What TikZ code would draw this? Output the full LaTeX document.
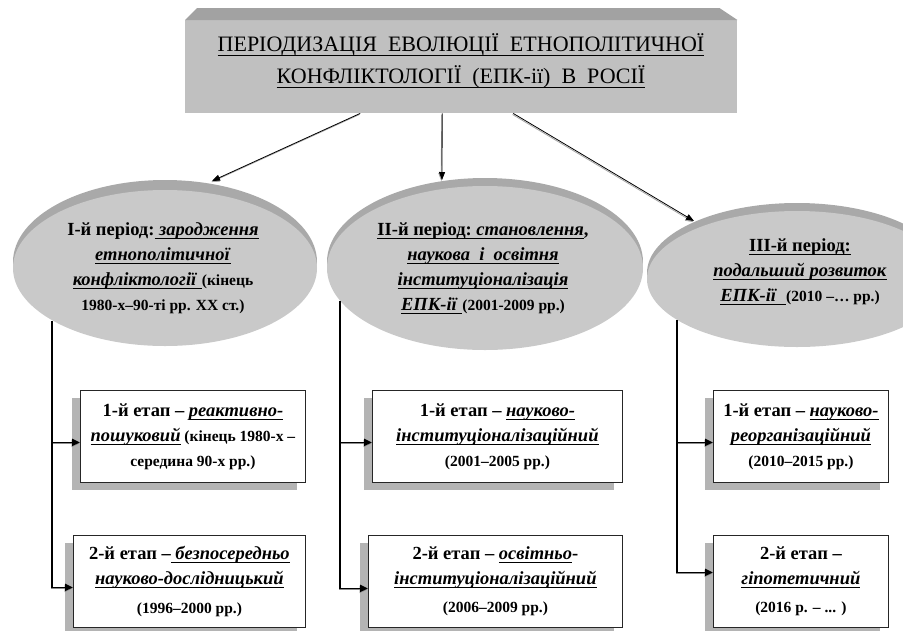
\documentclass[tikz,border=0pt]{standalone}
\usepackage{fontspec}
\setmainfont{Liberation Serif}
\usetikzlibrary{shapes.geometric,arrows.meta}
\definecolor{boxgray}{HTML}{C0C0C0}
\definecolor{topgray}{HTML}{A2A2A2}
\definecolor{ellgray}{HTML}{C9C9C9}
\definecolor{rimgray}{HTML}{A9A9A9}
\definecolor{shadowgray}{HTML}{B4B4B4}
\newsavebox\ulbox
\newcommand\ulx[1]{\sbox\ulbox{#1}\rlap{\usebox\ulbox}\rule[-0.2em]{\wd\ulbox}{0.065em}}
\newcommand\sm{\fontsize{15.5}{25}\selectfont}
\tikzset{
  rim/.style={ellipse, fill=rimgray, draw=none, inner sep=0pt},
  ell/.style={ellipse, fill=ellgray, draw=none, inner sep=0pt},
  etext/.style={align=center, inner sep=0pt, font=\fontsize{18.5}{25}\selectfont\bfseries},
  stagebox/.style={rectangle, draw=black!85, line width=0.8pt, fill=white, inner sep=0pt,
    anchor=north west, align=center, font=\fontsize{18.5}{25}\selectfont\bfseries},
  shadowbox/.style={rectangle, fill=shadowgray, draw=none, inner sep=0pt, anchor=north west},
  conn/.style={line width=1.8pt, -{Triangle[length=8pt,width=7pt]},
    preaction={draw=black!45, line width=1.8pt, transform canvas={shift={(-0.5pt,-1pt)}}}},
  topconn/.style={line width=0.8pt, -{Triangle[length=8pt,width=6pt]},
    preaction={draw=black!35, line width=0.8pt, transform canvas={shift={(-0.7pt,-1.1pt)}}}},
}
\begin{document}
\begin{tikzpicture}[x=1pt,y=-1pt]
\useasboundingbox (0,0) rectangle (903,630);
\clip (0,0) rectangle (903,630);

% title box
\node[rectangle, fill=boxgray, inner sep=0pt, anchor=north west,
      minimum width=552pt, minimum height=93pt] (title) at (185,20) {};
\fill[topgray] (title.north west) -- ([xshift=12pt,yshift=12pt]title.north west)
  -- ([xshift=-18pt,yshift=12pt]title.north east) -- (title.north east) -- cycle;
\node[align=center, inner sep=0pt, font=\fontsize{22}{32}\selectfont] (titletext) at (461,61)
  {\ulx{ПЕРІОДИЗАЦІЯ\ \ ЕВОЛЮЦІЇ\ \ ЕТНОПОЛІТИЧНОЇ}\\
   \ulx{КОНФЛІКТОЛОГІЇ\ \ (ЕПК-ії)\ \ В\ \ РОСІЇ}};

% ellipses
\node[rim, minimum width=304pt, minimum height=164pt] (e1rim) at (165,262) {};
\node[ell, minimum width=304pt, minimum height=156pt] (e1) at (165,268) {};
\node[rim, minimum width=316pt, minimum height=168pt] (e2rim) at (485,262) {};
\node[ell, minimum width=316pt, minimum height=164pt] (e2) at (485,268) {};
\node[rim, minimum width=300pt, minimum height=140pt] (e3rim) at (797,273) {};
\node[ell, minimum width=300pt, minimum height=136pt] (e3) at (797,279) {};

\node[etext] (t1) at (163,268)
  {І-й період:\ulx{\ \textit{зародження}}\\
   \ulx{\textit{етнополітичної}}\\
   \ulx{\textit{конфліктології}\ }{\sm(кінець}\\
   {\sm 1980-х–90-ті рр. ХХ ст.)}};
\node[etext] (t2) at (483,268)
  {\ulx{ІІ-й період:}\ulx{\ \textit{становлення}},\\
   \ulx{\textit{наукова\ \ і\ \ освітня}}\\
   \ulx{\textit{інституціоналізація}}\\
   \ulx{\textit{ЕПК-ії}\ }{\sm(2001-2009 рр.)}};
\node[etext] (t3) at (800,272)
  {\ulx{ІІІ-й період:}\\
   \ulx{\textit{подальший розвиток}}\\
   \ulx{\textit{ЕПК-ії}\ \ }{\sm(2010 –… рр.)}};

% top arrows
\coordinate (a1) at (212,181);
\coordinate (a2) at (442,180);
\coordinate (a3) at (694,221);
\draw[topconn] ([xshift=-101pt]title.south) -- (a1);
\draw[topconn] ([xshift=-19pt]title.south) -- (a2);
\draw[topconn] ([xshift=52pt]title.south) -- (a3);

% shadows
\node[shadowbox, minimum width=225pt, minimum height=92pt] (L1s) at (72,398) {};
\node[shadowbox, minimum width=232pt, minimum height=92pt] (L2s) at (65,543) {};
\node[shadowbox, minimum width=250pt, minimum height=92pt] (M1s) at (364,398) {};
\node[shadowbox, minimum width=254pt, minimum height=92pt] (M2s) at (360,543) {};
\node[shadowbox, minimum width=175pt, minimum height=92pt] (R1s) at (705,398) {};
\node[shadowbox, minimum width=175pt, minimum height=92pt] (R2s) at (705,543) {};

% stage boxes
\node[stagebox, minimum width=225pt, minimum height=92pt] (L1) at (80,390)
  {1-й етап – \ulx{\textit{реактивно-}}\\
   \ulx{\textit{пошуковий}}{\sm\ (кінець 1980-х –}\\
   {\sm середина 90-х рр.)}};
\node[stagebox, minimum width=232pt, minimum height=92pt] (L2) at (73,535)
  {2-й етап –\ulx{\ \textit{безпосередньо}}\\
   \ulx{\textit{науково-дослідницький}}\\[4pt]
   {\sm(1996–2000 рр.)}};
\node[stagebox, minimum width=250pt, minimum height=92pt] (M1) at (372,390)
  {1-й етап – \ulx{\textit{науково-}}\\
   \ulx{\textit{інституціоналізаційний}}\\
   {\sm(2001–2005 рр.)}};
\node[stagebox, minimum width=254pt, minimum height=92pt] (M2) at (368,535)
  {2-й етап – \ulx{\textit{освітньо}}-\\
   \ulx{\textit{інституціоналізаційний}}\\[3pt]
   {\sm(2006–2009 рр.)}};
\node[stagebox, minimum width=175pt, minimum height=92pt] (R1) at (713,390)
  {1-й етап – \ulx{\textit{науково-}}\\
   \ulx{\textit{реорганізаційний}}\\
   {\sm(2010–2015 рр.)}};
\node[stagebox, minimum width=175pt, minimum height=92pt] (R2) at (713,535)
  {2-й етап –\\
   \ulx{\textit{гіпотетичний}}\\[3pt]
   {\sm(2016 р. – ... )}};

% column connectors
\coordinate (v1) at (52,321);
\coordinate (v2) at (340,301);
\coordinate (v3) at (677,320);
\draw[conn] (v1) |- ([yshift=-6pt]L1.west);
\draw[conn] (v1) |- ([yshift=-6pt]L2.west);
\draw[conn] (v2) |- ([yshift=-6pt]M1.west);
\draw[conn] (v2) |- ([yshift=-7pt]M2.west);
\draw[conn] (v3) |- ([yshift=-6pt]R1.west);
\draw[conn] (v3) |- ([yshift=9pt]R2.west);
\end{tikzpicture}
\end{document}
